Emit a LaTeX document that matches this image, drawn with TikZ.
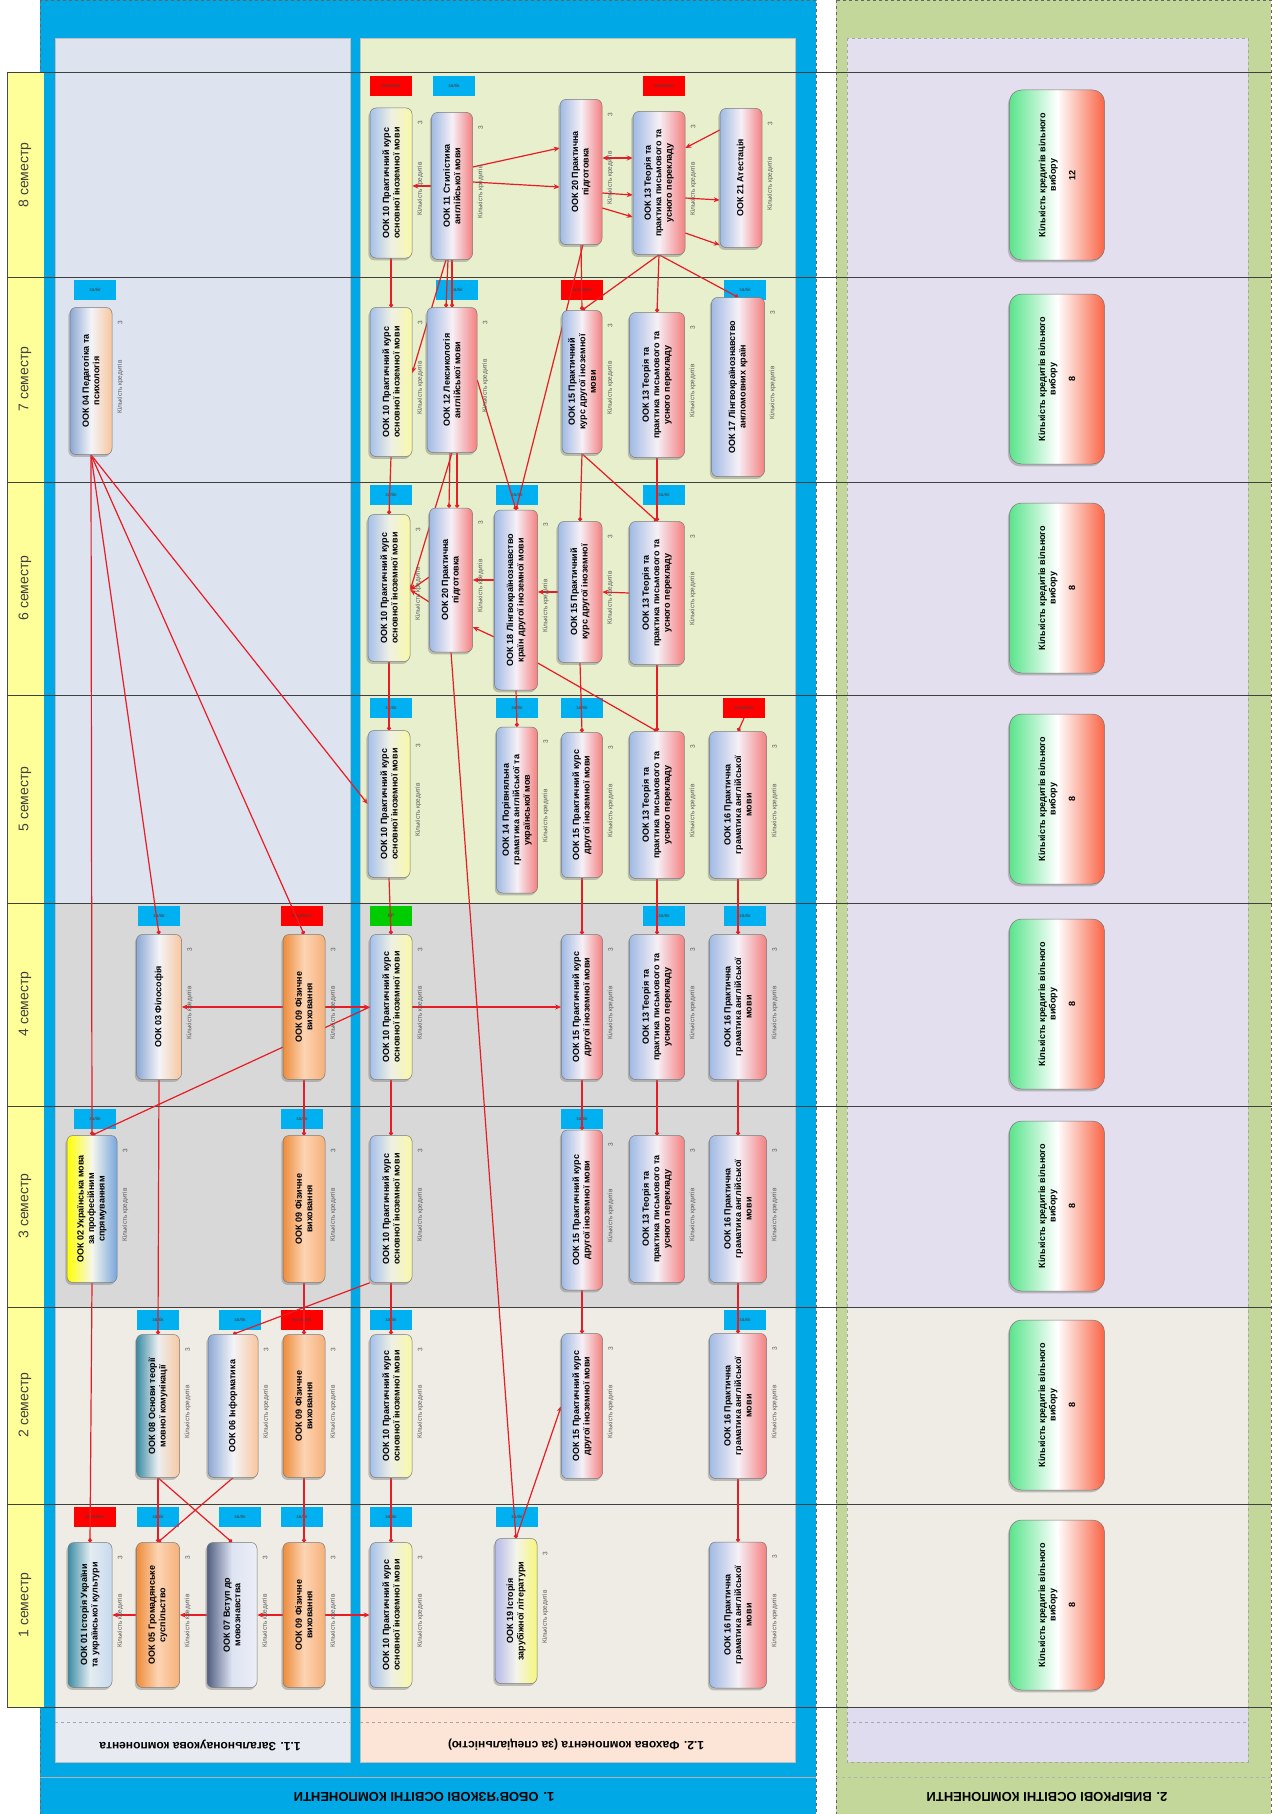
\documentclass[tikz,border=0pt]{standalone}
\usepackage{fontspec}
\setmainfont{Liberation Sans}
\usetikzlibrary{shadows,arrows.meta,calc}
\pgfdeclarelayer{bgl}
\pgfdeclarelayer{tagl}
\pgfdeclarelayer{linel}
\pgfsetlayers{bgl,tagl,linel,main}

\definecolor{cBlue}{RGB}{0,168,230}
\definecolor{cYel}{RGB}{255,255,153}
\definecolor{cP11}{RGB}{221,228,240}
\definecolor{cP12}{RGB}{231,239,204}
\definecolor{cGray}{RGB}{216,216,216}
\definecolor{cBeige}{RGB}{238,236,228}
\definecolor{cLav}{RGB}{228,223,238}
\definecolor{cGreen}{RGB}{196,215,155}
\definecolor{cPeach}{RGB}{252,228,214}
\definecolor{cBand}{RGB}{232,234,242}
\definecolor{cLavB}{RGB}{223,220,240}
\definecolor{cRed}{RGB}{232,28,36}
\definecolor{cTagC}{RGB}{0,176,240}
\definecolor{cTagR}{RGB}{255,0,0}
\definecolor{cTagG}{RGB}{0,204,0}
% gradients
\definecolor{aL}{RGB}{165,192,235}\definecolor{aM}{RGB}{238,240,228}\definecolor{aR}{RGB}{248,248,168}
\definecolor{bL}{RGB}{160,186,228}\definecolor{bM}{RGB}{246,240,246}\definecolor{bR}{RGB}{244,128,128}
\definecolor{oL}{RGB}{238,140,60}\definecolor{oM}{RGB}{252,212,180}\definecolor{oR}{RGB}{246,176,120}
\definecolor{tL}{RGB}{60,140,165}\definecolor{tM}{RGB}{228,236,242}\definecolor{tR}{RGB}{200,218,238}
\definecolor{uL}{RGB}{60,140,165}\definecolor{uM}{RGB}{236,238,240}\definecolor{uR}{RGB}{248,200,160}
\definecolor{sL}{RGB}{80,95,130}\definecolor{sM}{RGB}{222,228,242}\definecolor{sR}{RGB}{236,238,248}
\definecolor{pL}{RGB}{140,168,212}\definecolor{pM}{RGB}{244,244,248}\definecolor{pR}{RGB}{248,198,158}
\definecolor{yL}{RGB}{255,255,0}\definecolor{yM}{RGB}{246,246,236}\definecolor{yR}{RGB}{118,166,222}
\definecolor{lL}{RGB}{180,186,232}\definecolor{lM}{RGB}{244,244,236}\definecolor{lR}{RGB}{246,246,120}
\definecolor{gL}{RGB}{90,228,140}\definecolor{gM}{RGB}{255,255,255}\definecolor{gR}{RGB}{250,100,70}

\tikzset{
 bx/.style={draw={rgb,255:red,120;green,120;blue,120}, line width=0.5pt, rounded corners=6pt, inner sep=0pt,
   drop shadow={shadow xshift=-1.6pt,shadow yshift=-2.4pt,opacity=0.45}},
 gA/.style={left color=aL,right color=aR,middle color=aM},
 gB/.style={left color=bL,right color=bR,middle color=bM},
 gO/.style={left color=oL,right color=oR,middle color=oM},
 gT/.style={left color=tL,right color=tR,middle color=tM},
 gU/.style={left color=uL,right color=uR,middle color=uM},
 gS/.style={left color=sL,right color=sR,middle color=sM},
 gP/.style={left color=pL,right color=pR,middle color=pM},
 gY/.style={left color=yL,right color=yR,middle color=yM},
 gL/.style={left color=lL,right color=lR,middle color=lM},
 gG/.style={left color=gL,right color=gR,middle color=gM},
 bxt/.style={font=\fontsize{9}{10.5}\selectfont\bfseries, align=center, inner sep=0pt},
 sidel/.style={font=\fontsize{6.5}{7}\selectfont, text=black!65, inner sep=0pt},
 tagb/.style={minimum width=42pt, minimum height=20pt, inner sep=0pt, font=\fontsize{5}{5}\selectfont, text=black!75},
 con/.style={draw=cRed, line width=1.2pt},
 vcon/.style={con, -{Circle[length=4pt]}},
 acon/.style={con, -{Stealth[length=6pt,width=5pt]}},
 bcon/.style={con, {Stealth[length=6pt,width=5pt]}-{Stealth[length=6pt,width=5pt]}},
 semlab/.style={rotate=90, font=\fontsize{14}{14}\selectfont, text=black!75},
 paneltitle/.style={rotate=180, font=\bfseries\fontsize{12}{12}\selectfont},
 frametitle/.style={rotate=180, font=\bfseries\fontsize{13}{13}\selectfont},
}

\newcommand{\ook}[7]{%
  \node[bx,#6,minimum width=#4pt,minimum height=#5pt] (#1) at (#2,#3) {};
  \node[bxt,rotate=90] (#1t) at (#1.center) {#7};
  \node[sidel,rotate=90] (#1l) at ([xshift=8pt,yshift=-6pt]#1.east) {Кількість кредитів};
  \node[sidel,rotate=90] (#1n) at ([xshift=8pt,yshift=-15pt]#1.north east) {3};
}
\newcommand{\vib}[3]{%
  \node[bx,gG,rounded corners=12pt,minimum width=95pt,minimum height=170pt] (#1) at (1057,#2) {};
  \node[bxt,rotate=90] (#1t) at (#1.center) {Кількість кредитів вільного\\вибору\\[9pt]#3};
}
\newcommand{\tgC}[2]{\node[tagb,fill=cTagC] (#1) at (#2) {залік};}
\newcommand{\tgR}[2]{\node[tagb,fill=cTagR] (#1) at (#2) {екзамен};}
\newcommand{\tgG}[2]{\node[tagb,fill=cTagG] (#1) at (#2) {КР};}

\begin{document}
\begin{tikzpicture}[x=1pt,y=-1pt]
\useasboundingbox (0,0) rectangle (1280,1814);
\begin{pgfonlayer}{bgl}
\fill[white] (0,0) rectangle (1280,1814);
% frames
\draw[dashed, black!60, fill=cBlue] (40,0) rectangle (816,1814);
\draw[dashed, black!60, fill=cGreen] (836,0) rectangle (1271,1814);
% panel 1.1
\fill[cP11] (55,38) rectangle (350,903);
\fill[cGray] (55,903) rectangle (350,1307);
\fill[cBeige] (55,1307) rectangle (350,1707);
\fill[cBand] (55,1707) rectangle (350,1762);
\draw[black!25] (55,38) rectangle (350,1762);
% panel 1.2
\fill[cP12] (360,38) rectangle (795,903);
\fill[cGray] (360,903) rectangle (795,1307);
\fill[cBeige] (360,1307) rectangle (795,1707);
\fill[cPeach] (360,1707) rectangle (795,1762);
\draw[black!25] (360,38) rectangle (795,1762);
% panel 2
\fill[cLav] (847,38) rectangle (1248,1307);
\fill[cBeige] (847,1307) rectangle (1248,1707);
\fill[cLavB] (847,1707) rectangle (1248,1762);
\draw[black!35, dashed] (847,38) rectangle (1248,1762);
% dashed lines in header bands
\draw[dashed, black!35] (55,1722) -- (350,1722);
\draw[dashed, black!35] (360,1722) -- (795,1722);
\draw[dashed, black!35] (847,1722) -- (1248,1722);
\draw[black!30] (40,1777) -- (816,1777);
\draw[black!30, dashed] (836,1777) -- (1271,1777);
% semester column
\fill[cYel] (7,73) rectangle (44,1707);
\draw[black!70] (7,73) -- (7,1707);
% row lines
\foreach \yy in {73,277,482,695,903,1106,1307,1504,1707}
  \draw[black!75, line width=1pt] (7,\yy) -- (1272,\yy);
\end{pgfonlayer}

% semester labels
\node[semlab] (sem8) at (25,175) {8 семестр};
\node[semlab] (sem7) at (25,379) {7 семестр};
\node[semlab] (sem6) at (25,588) {6 семестр};
\node[semlab] (sem5) at (25,799) {5 семестр};
\node[semlab] (sem4) at (25,1004) {4 семестр};
\node[semlab] (sem3) at (25,1206) {3 семестр};
\node[semlab] (sem2) at (25,1405) {2 семестр};
\node[semlab] (sem1) at (25,1605) {1 семестр};

% titles
\node[paneltitle] (ttl11) at (200,1745) {1.1. Загальнонаукова компонента};
\node[paneltitle] (ttl12) at (576,1745) {1.2. Фахова компонента (за спеціальністю)};
\node[frametitle] (ttl1) at (424,1797) {1. ОБОВ'ЯЗКОВІ ОСВІТНІ КОМПОНЕНТИ};
\node[frametitle] (ttl2) at (1047,1797) {2. ВИБІРКОВІ ОСВІТНІ КОМПОНЕНТИ};

% tags
\begin{pgfonlayer}{tagl}
\tgR{t01s1}{95,1517}\tgC{t05s1}{158,1517}\tgC{t07s1}{240,1517}\tgC{t09s1}{302,1517}\tgC{t10s1}{391,1517}\tgC{t19s1}{517,1517}
\tgC{t08s2}{158,1320}\tgC{t06s2}{240,1320}\tgR{t09s2}{302,1320}\tgC{t10s2}{391,1320}\tgC{t16s2}{745,1320}
\tgC{t02s3}{95,1119}\tgC{t09s3}{302,1119}\tgC{t15s3}{582,1119}
\tgC{t03s4}{159,916}\tgR{t09s4}{302,916}\tgG{t10s4}{391,916}\tgC{t13s4}{664,916}\tgC{t16s4}{745,916}
\tgC{t10s5}{391,708}\tgC{t14s5}{517,708}\tgC{t15s5}{582,708}\tgR{t16s5}{744,708}
\tgC{t10s6}{391,495}\tgC{t18s6}{517,495}\tgC{t13s6}{664,495}
\tgC{t04s7}{95,290}\tgC{t12s7}{457,290}\tgR{t15s7}{582,290}\tgC{t17s7}{745,290}
\tgR{t10s8}{391,86}\tgC{t11s8}{454,86}\tgR{t13s8}{664,86}
\end{pgfonlayer}

% ---- boxes: panel 1.1
\ook{k01s1}{90}{1615}{44}{145}{gT}{ООК 01 Історія України\\та української культури}
\ook{k05s1}{158}{1615}{43}{145}{gO}{ООК 05 Громадянське\\суспільство}
\ook{k07s1}{232}{1615}{50}{145}{gS}{ООК 07 Вступ до\\мовознавства}
\ook{k09s1}{304}{1615}{42}{145}{gO}{ООК 09 Фізичне\\виховання}
\ook{k08s2}{158}{1406}{43}{143}{gU}{ООК 08 Основи теорії\\мовної комунікації}
\ook{k06s2}{233}{1406}{50}{143}{gP}{ООК 06 Інформатика}
\ook{k09s2}{304}{1406}{42}{143}{gO}{ООК 09 Фізичне\\виховання}
\ook{k02s3}{92}{1209}{50}{147}{gY}{ООК 02 Українська мова\\за професійним\\спрямуванням}
\ook{k09s3}{304}{1209}{42}{147}{gO}{ООК 09 Фізичне\\виховання}
\ook{k03s4}{159}{1007}{45}{145}{gP}{ООК 03 Філософія}
\ook{k09s4}{304}{1007}{42}{145}{gO}{ООК 09 Фізичне\\виховання}
\ook{k04s7}{91}{381}{42}{147}{gP}{ООК 04 Педагогіка та\\психологія}

% ---- boxes: panel 1.2
\ook{k10s1}{391}{1615}{42}{145}{gA}{ООК 10 Практичний курс\\основної іноземної мови}
\ook{k10s2}{391}{1406}{42}{143}{gA}{ООК 10 Практичний курс\\основної іноземної мови}
\ook{k10s3}{391}{1209}{42}{147}{gA}{ООК 10 Практичний курс\\основної іноземної мови}
\ook{k10s4}{391}{1007}{42}{145}{gA}{ООК 10 Практичний курс\\основної іноземної мови}
\ook{k10s5}{389}{804}{42}{147}{gA}{ООК 10 Практичний курс\\основної іноземної мови}
\ook{k10s6}{389}{588}{42}{147}{gA}{ООК 10 Практичний курс\\основної іноземної мови}
\ook{k10s7}{391}{382}{42}{149}{gA}{ООК 10 Практичний курс\\основної іноземної мови}
\ook{k10s8}{391}{183}{42}{150}{gA}{ООК 10 Практичний курс\\основної іноземної мови}
\ook{k19s1}{516}{1611}{42}{145}{gL}{ООК 19 Історія\\зарубіжної літератури}
\ook{k16s1}{738}{1615}{57}{146}{gB}{ООК 16 Практична\\граматика англійської\\мови}
\ook{k15s2}{582}{1406}{41}{145}{gB}{ООК 15 Практичний курс\\другої іноземної мови}
\ook{k16s2}{738}{1406}{57}{145}{gB}{ООК 16 Практична\\граматика англійської\\мови}
\ook{k15s3}{582}{1210}{41}{160}{gB}{ООК 15 Практичний курс\\другої іноземної мови}
\ook{k13s3}{657}{1209}{55}{147}{gB}{ООК 13 Теорія та\\практика письмового та\\усного перекладу}
\ook{k16s3}{738}{1209}{57}{147}{gB}{ООК 16 Практична\\граматика англійської\\мови}
\ook{k15s4}{582}{1007}{41}{145}{gB}{ООК 15 Практичний курс\\другої іноземної мови}
\ook{k13s4}{657}{1007}{55}{145}{gB}{ООК 13 Теорія та\\практика письмового та\\усного перекладу}
\ook{k16s4}{738}{1007}{57}{145}{gB}{ООК 16 Практична\\граматика англійської\\мови}
\ook{k14s5}{517}{810}{41}{166}{gB}{ООК 14 Порівняльна\\граматика англійської та\\української мов}
\ook{k15s5}{582}{805}{41}{145}{gB}{ООК 15 Практичний курс\\другої іноземної мови}
\ook{k13s5}{657}{805}{55}{147}{gB}{ООК 13 Теорія та\\практика письмового та\\усного перекладу}
\ook{k16s5}{738}{805}{57}{147}{gB}{ООК 16 Практична\\граматика англійської\\мови}
\ook{k20s6}{451}{580}{43}{144}{gB}{ООК 20 Практична\\підготовка}
\ook{k18s6}{516}{600}{43}{180}{gB}{ООК 18 Лінгвокраїнознавство\\країн другої іноземної мови}
\ook{k15s6}{580}{592}{44}{141}{gB}{ООК 15 Практичний\\курс другої іноземної}
\ook{k13s6}{657}{593}{55}{143}{gB}{ООК 13 Теорія та\\практика письмового та\\усного перекладу}
\ook{k12s7}{452}{380}{50}{145}{gB}{ООК 12 Лексикологія\\англійської мови}
\ook{k15s7}{582}{382}{40}{143}{gB}{ООК 15 Практичний\\курс другої іноземної\\мови}
\ook{k13s7}{657}{385}{55}{145}{gB}{ООК 13 Теорія та\\практика письмового та\\усного перекладу}
\ook{k17s7}{738}{387}{53}{179}{gB}{ООК 17 Лінгвокраїнознавство\\англомовних країн}
\ook{k11s8}{452}{186}{41}{147}{gB}{ООК 11 Стилістика\\англійської мови}
\ook{k20s8}{581}{172}{42}{145}{gB}{ООК 20 Практична\\підготовка}
\ook{k13s8}{659}{183}{52}{143}{gB}{ООК 13 Теорія та\\практика письмового та\\усного перекладу}
\ook{k21s8}{741}{178}{42}{139}{gB}{ООК 21 Атестація}

% ---- panel 2
\vib{v8}{175}{12}
\vib{v7}{379}{8}
\vib{v6}{588}{8}
\vib{v5}{799}{8}
\vib{v4}{1004}{8}
\vib{v3}{1206}{8}
\vib{v2}{1405}{8}
\vib{v1}{1605}{8}

% ---- connectors
\begin{pgfonlayer}{linel}
\foreach \a/\b in {k10s8/k10s7,k10s7/k10s6,k10s6/k10s5,k10s5/k10s4,k10s4/k10s3,k10s3/k10s2,k10s2/k10s1,
 k09s4/k09s3,k09s3/k09s2,k09s2/k09s1,
 k15s7/k15s6,k15s6/k15s5,k15s5/k15s4,k15s4/k15s3,k15s3/k15s2,
 k13s8/k13s7,k13s7/k13s6,k13s6/k13s5,k13s5/k13s4,k13s4/k13s3,
 k16s5/k16s4,k16s4/k16s3,k16s3/k16s2,k16s2/k16s1,
 k04s7/k02s3,k02s3/k01s1,k03s4/k08s2,k18s6/k14s5,k08s2/k05s1}
  \draw[vcon] (\a.south) -- (\b.north);
\draw[vcon] (t16s5.south) -- (k16s5.north);
% panel 1.1 diagonals
\draw[vcon] (k04s7.south) -- (k03s4.north);
\draw[vcon] (k04s7.south) -- (k09s4.north);
\draw[acon] (k04s7.south) -- (k10s5.west);
\draw[vcon] (k10s4.west) -- (k02s3.north);
\draw[vcon] (k10s3.south west) -- (k06s2.north);
\draw[vcon] (k08s2.south) -- (k07s1.north);
\draw[vcon] (k06s2.south) -- (k05s1.north);
% row 1 horizontals
\draw[acon] (k09s1.west) -- (k07s1.east);
\draw[acon] (k07s1.west) -- (k05s1.east);
\draw[acon] (k05s1.west) -- (k01s1.east);
\draw[acon] (k09s1.east) -- (k10s1.west);
% row 4 horizontals
\draw[acon] (k09s4.west) -- (k03s4.east);
\draw[acon] (k09s4.east) -- (k10s4.west);
\draw[acon] (k10s4.east) -- (k15s4.west);
% row 1-2
\draw[vcon] (k20s6.south) -- (k19s1.north);
\draw[acon] (k19s1.north) -- (k15s2.west);
% row 6
\draw[acon] (k13s6.west) -- (k15s6.east);
\draw[acon] (k15s6.west) -- (k18s6.east |- k15s6.west);
\draw[acon] (k18s6.west |- k20s6.east) -- (k20s6.east);
\draw[acon] ([yshift=-37pt]k18s6.west) -- ([yshift=-47pt]k20s6.east);
\draw[acon] ([yshift=3pt]k20s6.west) -- ([yshift=-2pt]k10s6.east);
\draw[acon] ([yshift=-22pt]k20s6.west) -- ([yshift=-2pt]k10s6.east);
\draw[acon] (k12s7.south) -- ([yshift=-2pt]k10s6.east);
\draw[vcon] ([yshift=-63pt]k18s6.east) -- (k13s5.north);
% rows 7-8
\draw[acon] ([xshift=-6pt]k11s8.south) -- ([yshift=9pt]k10s7.east);
\draw[vcon] (k11s8.south) -- (k12s7.north);
\draw[vcon] ([xshift=-4pt]k11s8.south) -- ([xshift=-6pt]k12s7.north);
\draw[vcon] ([xshift=-2pt]k12s7.south) -- ([xshift=-2pt]k20s6.north);
\draw[vcon] ([xshift=5pt]k12s7.south) -- ([xshift=6pt]k20s6.north);
\draw[vcon] (k12s7.east) -- (k18s6.north);
\draw[vcon] (k20s8.south) -- (k15s7.north);
\draw[vcon] ([xshift=2pt]k20s8.south) -- (k18s6.north);
\draw[vcon] (k13s8.south) -- (k15s7.north);
\draw[vcon] (k13s8.south) -- (k17s7.north);
\draw[vcon] (k15s7.south) -- (k13s6.north);
% row 8 horizontals
\draw[acon] (k11s8.west) -- (k10s8.east |- k11s8.west);
\draw[acon] ([yshift=19pt]k11s8.east) -- ([yshift=24pt]k20s8.west);
\draw[acon] ([yshift=4pt]k11s8.east) -- ([yshift=-15pt]k20s8.west);
\draw[bcon] ([yshift=14pt]k20s8.east) -- ([yshift=25pt]k13s8.west);
\draw[acon] ([yshift=-21pt]k20s8.east) -- ([yshift=-12pt]k13s8.west);
\draw[acon] ([yshift=-36pt]k20s8.east) -- ([yshift=-34pt]k13s8.west);
\draw[acon] ([yshift=48pt]k21s8.west) -- ([yshift=35pt]k13s8.east);
\draw[acon] ([yshift=-15pt]k13s8.east) -- ([yshift=-22pt]k21s8.west);
\draw[acon] ([yshift=-50pt]k13s8.east) -- ([yshift=-67pt]k21s8.west);
\end{pgfonlayer}
\end{tikzpicture}
\end{document}
